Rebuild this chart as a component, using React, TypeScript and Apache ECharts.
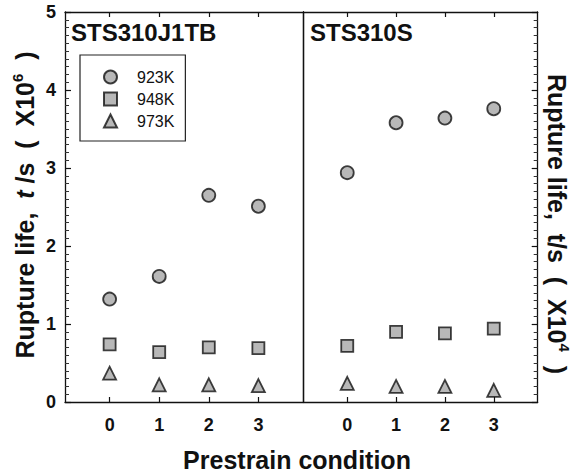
import React, { useEffect, useRef } from "react";
import * as echarts from "echarts";

const prestrain = [0, 1, 2, 3];
const xTicks = [0, 1, 2, 3];
const tempLabels = ["923K", "948K", "973K"];

// STS310J1TB (x10^6 s)
const j1tb923 = [1.32, 1.61, 2.65, 2.51];
const j1tb948 = [0.74, 0.64, 0.7, 0.69];
const j1tb973 = [0.37, 0.22, 0.22, 0.21];

// STS310S (x10^4 s)
const s923 = [2.94, 3.58, 3.64, 3.76];
const s948 = [0.72, 0.9, 0.88, 0.94];
const s973 = [0.24, 0.2, 0.2, 0.15];

const FONT = "Liberation Sans, Arial, sans-serif";
const INK = "#111";

const pair = (ys: number[]) => prestrain.map((x, i) => [x, ys[i]]);

const markerStyle = { color: "#a6a6a6", borderColor: "#111", borderWidth: 1.8 };
const symbols = ["circle", "rect", "triangle"];
const sizes = [13, 12, 13];

export default function App() {
  const ref = useRef<HTMLDivElement>(null);
  useEffect(() => {
    if (!ref.current) return;
    const chart = echarts.init(ref.current, undefined, { renderer: "svg" });

    const xBase = (gridIndex: number, position: "top" | "bottom", labels: boolean) => ({
      type: "value",
      gridIndex,
      position,
      min: -0.9,
      max: 3.9,
      axisLine: { show: true, onZero: false, lineStyle: { color: INK, width: 1.3 } },
      axisTick: { show: true, inside: true, length: 5, customValues: xTicks, lineStyle: { color: INK, width: 1.2 } },
      axisLabel: {
        show: labels,
        customValues: xTicks,
        fontFamily: FONT,
        fontWeight: "bold",
        fontSize: 18,
        color: INK,
        margin: 14,
      },
      splitLine: { show: false },
    });

    const yTicked = (gridIndex: number, position: "left" | "right", labels: boolean) => ({
      type: "value",
      gridIndex,
      position,
      min: 0,
      max: 5,
      interval: 1,
      axisLine: { show: true, onZero: false, lineStyle: { color: INK, width: 1.3 } },
      axisTick: { show: true, inside: true, length: 6, lineStyle: { color: INK, width: 1.2 } },
      minorTick: { show: true, splitNumber: 10, length: 4, lineStyle: { color: "#333", width: 1 } },
      axisLabel: {
        show: labels,
        fontFamily: FONT,
        fontWeight: "bold",
        fontSize: 18,
        color: INK,
        margin: 9,
      },
      splitLine: { show: false },
    });

    const yPlain = (gridIndex: number, position: "left" | "right") => ({
      type: "value",
      gridIndex,
      position,
      min: 0,
      max: 5,
      axisLine: { show: true, onZero: false, lineStyle: { color: INK, width: 1.3 } },
      axisTick: { show: false },
      axisLabel: { show: false },
      splitLine: { show: false },
    });

    const leftData = [j1tb923, j1tb948, j1tb973];
    const rightData = [s923, s948, s973];
    const series: any[] = [];
    leftData.forEach((d, i) =>
      series.push({
        type: "scatter",
        name: tempLabels[i],
        xAxisIndex: 0,
        yAxisIndex: 0,
        symbol: symbols[i],
        symbolSize: sizes[i],
        itemStyle: markerStyle,
        data: pair(d),
      })
    );
    rightData.forEach((d, i) =>
      series.push({
        type: "scatter",
        name: tempLabels[i],
        xAxisIndex: 2,
        yAxisIndex: 2,
        symbol: symbols[i],
        symbolSize: sizes[i],
        itemStyle: markerStyle,
        data: pair(d),
      })
    );

    const titleRich = {
      a: { fontFamily: FONT, fontWeight: "bold", fontSize: 25, fill: INK, lineHeight: 30 },
      i: { fontFamily: FONT, fontWeight: "bold", fontStyle: "italic", fontSize: 25, fill: INK, lineHeight: 30 },
      s: { fontFamily: FONT, fontWeight: "bold", fontSize: 15, fill: INK, verticalAlign: "top", lineHeight: 30 },
    };

    chart.setOption({
      animation: false,
      backgroundColor: "#fff",
      grid: [
        { left: 65, top: 12, width: 238, height: 390 },
        { left: 303.3, top: 12, width: 234.4, height: 390 },
      ],
      xAxis: [
        xBase(0, "bottom", true),
        xBase(0, "top", false),
        xBase(1, "bottom", true),
        xBase(1, "top", false),
      ],
      yAxis: [yTicked(0, "left", true), yPlain(0, "right"), yTicked(1, "right", false), yPlain(1, "left")],
      legend: {
        data: tempLabels,
        orient: "vertical",
        left: 80,
        top: 55,
        padding: [14, 11, 12, 23],
        itemWidth: 13,
        itemHeight: 13,
        itemGap: 6,
        borderColor: "#222",
        borderWidth: 1.2,
        textStyle: { fontFamily: FONT, fontSize: 16, color: INK, padding: [0, 0, 0, 15] },
      },
      graphic: [
        {
          type: "text",
          left: 71,
          top: 20,
          style: { text: "STS310J1TB", fontFamily: FONT, fontWeight: "bold", fontSize: 24, fill: INK },
        },
        {
          type: "text",
          left: 310,
          top: 20,
          style: { text: "STS310S", fontFamily: FONT, fontWeight: "bold", fontSize: 24, fill: INK },
        },
        {
          type: "text",
          x: 25,
          y: 205,
          rotation: Math.PI / 2,
          style: {
            text: "{a|Rupture life,  }{i|t}{a| /s  (  X10}{s|6}{a|  )}",
            rich: titleRich,
            align: "center",
            verticalAlign: "middle",
          },
        },
        {
          type: "text",
          x: 557,
          y: 224,
          rotation: -Math.PI / 2,
          style: {
            text: "{a|Rupture life,  t/s  (  X10}{s|4}{a|  )}",
            rich: titleRich,
            align: "center",
            verticalAlign: "middle",
          },
        },
        {
          type: "text",
          x: 297,
          y: 460,
          style: {
            text: "Prestrain condition",
            fontFamily: FONT,
            fontWeight: "bold",
            fontSize: 25,
            fill: INK,
            align: "center",
            verticalAlign: "middle",
          },
        },
      ],
      series,
    });
    return () => chart.dispose();
  }, []);
  return <div ref={ref} style={{ position: "fixed", left: 0, top: 0, width: 575, height: 475 }} />;
}
